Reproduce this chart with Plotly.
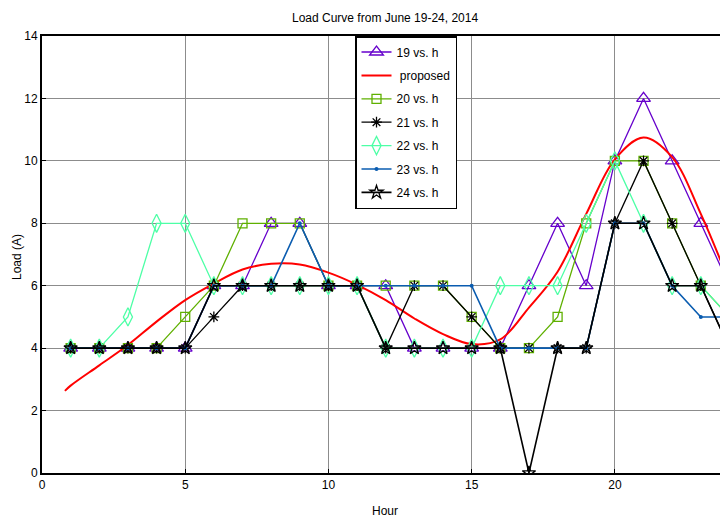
import plotly.graph_objects as go

hours = list(range(1, 25))

load_19 = [4, 4, 4, 4, 4, 6, 6, 8, 8, 6, 6, 6, 4, 4, 4, 4, 6, 8, 6, 10, 12, 10, 8, 6]
load_20 = [4, 4, 4, 4, 5, 6, 8, 8, 8, 6, 6, 6, 6, 6, 5, 4, 4, 5, 8, 10, 10, 8, 6, 5]
load_21 = [4, 4, 4, 4, 4, 5, 6, 6, 6, 6, 6, 4, 6, 6, 5, 4, 4, 4, 4, 8, 10, 8, 6, 4]
load_22 = [4, 4, 5, 8, 8, 6, 6, 6, 6, 6, 6, 4, 4, 4, 4, 6, 6, 6, 8, 10, 8, 6, 6, 5]
load_23 = [4, 4, 4, 4, 4, 6, 6, 6, 8, 6, 6, 6, 6, 6, 6, 4, 4, 4, 4, 8, 8, 6, 5, 5]
load_24 = [4, 4, 4, 4, 4, 6, 6, 6, 6, 6, 6, 4, 4, 4, 4, 4, 0, 4, 4, 8, 8, 6, 6, 4]

proposed_h = [0.8, 1, 2, 3, 4, 5, 6, 7, 8, 9, 10, 11, 12, 13, 14, 15, 16, 17, 18, 19, 20, 21, 22, 23, 24]
proposed_y = [2.63, 2.8, 3.45, 4.1, 4.85, 5.54, 6.07, 6.52, 6.7, 6.68, 6.42, 6.03, 5.54, 4.95,
              4.45, 4.13, 4.28, 5.3, 6.45, 8.3, 10.05, 10.75, 10.12, 8.3, 6.1]

x_ticks = [0, 5, 10, 15, 20]
y_ticks = [0, 2, 4, 6, 8, 10, 12, 14]

FONT = "Liberation Sans, Arial, sans-serif"
FS = 12

fig = go.Figure()

def add_series(name, y, color, symbol, size, group, lw=1.3, mlw=1.3):
    fig.add_trace(go.Scatter(
        x=hours, y=y, name=name, mode="lines+markers", legendgroup=group,
        line=dict(color=color, width=lw),
        marker=dict(symbol=symbol, size=size, color=color,
                    line=dict(color=color, width=mlw)),
    ))

add_series("19 vs. h", load_19, "#6600CC", "triangle-up-open", 12, "g1")
fig.add_trace(go.Scatter(
    x=proposed_h, y=proposed_y, name=" proposed", mode="lines", legendgroup="g2",
    line=dict(color="#FF0000", width=2, shape="spline", smoothing=1.0),
))
add_series("20 vs. h", load_20, "#5FB000", "square-open", 9, "g3")
add_series("21 vs. h", load_21, "#000000", "asterisk-open", 9, "g4")
add_series("22 vs. h", load_22, "#4DFFA6", "diamond-tall-open", 13, "g5")
add_series("23 vs. h", load_23, "#0A5CB0", "circle", 4, "g6", lw=1.6, mlw=0)
add_series("24 vs. h", load_24, "#000000", "star-open", 10, "g7", lw=1.6, mlw=1.3)

fig.update_layout(
    width=720, height=521,
    margin=dict(l=42, r=0, t=36, b=48, pad=0),
    paper_bgcolor="white", plot_bgcolor="white",
    font=dict(family=FONT, size=FS, color="black"),
    showlegend=True,
    legend=dict(
        x=(355 - 42) / 678, y=1.0, xanchor="left", yanchor="top",
        bgcolor="white", bordercolor="black", borderwidth=1.5,
        font=dict(family=FONT, size=FS, color="black"),
        tracegroupgap=4.4,
    ),
    xaxis=dict(
        range=[0, 23.67], tickvals=x_ticks, ticktext=[str(v) for v in x_ticks],
        showgrid=True, gridcolor="#8C8C8C", gridwidth=1,
        showline=True, linecolor="black", linewidth=2, mirror=True,
        ticks="inside", ticklen=4, tickcolor="black",
        zeroline=False,
        tickfont=dict(family=FONT, size=FS),
    ),
    yaxis=dict(
        range=[0, 14], tickvals=y_ticks, ticktext=[str(v) for v in y_ticks],
        showgrid=True, gridcolor="#8C8C8C", gridwidth=1,
        showline=True, linecolor="black", linewidth=2, mirror=False,
        ticks="inside", ticklen=4, tickcolor="black",
        zeroline=False,
        tickfont=dict(family=FONT, size=FS),
    ),
    annotations=[
        dict(text="Load Curve from June 19-24, 2014", xref="paper", yref="paper",
             x=(385 - 42) / 678, y=1 + (36 - 18) / 437, xanchor="center", yanchor="middle",
             showarrow=False, font=dict(family=FONT, size=FS, color="black")),
        dict(text="Hour", xref="paper", yref="paper",
             x=(385 - 42) / 678, y=-(511 - 473) / 437, xanchor="center", yanchor="middle",
             showarrow=False, font=dict(family=FONT, size=FS, color="black")),
        dict(text="Load (A)", xref="paper", yref="paper", textangle=-90,
             x=-(42 - 17) / 678, y=(473 - 257) / 437, xanchor="center", yanchor="middle",
             showarrow=False, font=dict(family=FONT, size=12, color="black")),
    ],
)

fig.write_html("out.html")
